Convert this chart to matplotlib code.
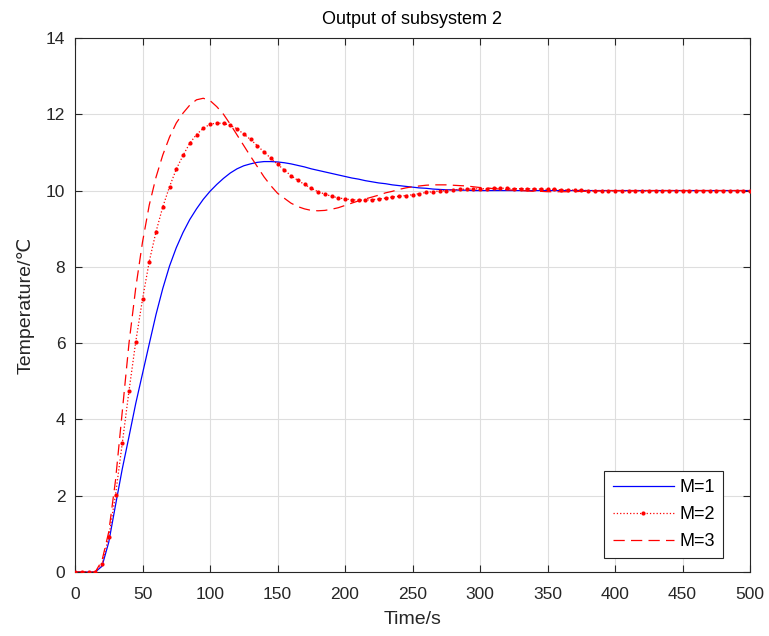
import matplotlib
matplotlib.use("Agg")
import matplotlib.pyplot as plt
import numpy as np

# ---------------- data ----------------
time_s = list(range(0, 501, 5))

m1_values = [
    0.0, 0.0, 0.0, 0.0, 0.15, 0.78, 1.75, 2.7, 3.55, 4.42,
    5.2, 5.98, 6.75, 7.43, 8.02, 8.5, 8.9, 9.24, 9.52, 9.77,
    9.98, 10.16, 10.32, 10.46, 10.57, 10.65, 10.7, 10.74, 10.76, 10.76,
    10.75, 10.73, 10.7, 10.66, 10.62, 10.57, 10.53, 10.49, 10.45, 10.41,
    10.37, 10.33, 10.3, 10.26, 10.23, 10.2, 10.18, 10.15, 10.13, 10.11,
    10.09, 10.07, 10.06, 10.04, 10.03, 10.02, 10.02, 10.01, 10.01, 10.0,
    10.0, 10.0, 10.0, 10.0, 10.0, 10.0, 10.0, 10.0, 10.0, 10.0,
    10.0, 10.0, 10.0, 10.0, 10.0, 10.0, 10.0, 10.0, 10.0, 10.0,
    10.0, 10.0, 10.0, 10.0, 10.0, 10.0, 10.0, 10.0, 10.0, 10.0,
    10.0, 10.0, 10.0, 10.0, 10.0, 10.0, 10.0, 10.0, 10.0, 10.0,
    10.0,
]

m2_values = [
    0.0, 0.0, 0.0, 0.0, 0.2, 0.92, 2.02, 3.37, 4.75, 6.04,
    7.15, 8.14, 8.92, 9.57, 10.1, 10.56, 10.92, 11.24, 11.47, 11.63,
    11.74, 11.77, 11.76, 11.71, 11.62, 11.48, 11.34, 11.18, 11.01, 10.85,
    10.69, 10.54, 10.39, 10.27, 10.16, 10.06, 9.97, 9.91, 9.85, 9.81,
    9.78, 9.76, 9.75, 9.75, 9.76, 9.78, 9.8, 9.83, 9.85, 9.87,
    9.89, 9.92, 9.95, 9.97, 9.99, 10.0, 10.02, 10.03, 10.04, 10.04,
    10.05, 10.05, 10.06, 10.06, 10.06, 10.05, 10.05, 10.05, 10.04, 10.04,
    10.03, 10.03, 10.02, 10.02, 10.01, 10.01, 10.0, 10.0, 10.0, 10.0,
    9.99, 9.99, 9.99, 9.99, 9.99, 9.99, 10.0, 10.0, 10.0, 10.0,
    10.0, 10.0, 10.0, 10.0, 10.0, 10.0, 10.0, 10.0, 10.0, 10.0,
    10.0,
]

m3_values = [
    0.0, 0.0, 0.0, 0.0, 0.3, 1.05, 2.4, 4.2, 6.0, 7.45,
    8.65, 9.62, 10.35, 10.93, 11.4, 11.77, 12.03, 12.24, 12.38, 12.42,
    12.36, 12.2, 12.0, 11.74, 11.46, 11.18, 10.9, 10.63, 10.36, 10.13,
    9.93, 9.8, 9.67, 9.58, 9.52, 9.48, 9.47, 9.48, 9.51, 9.55,
    9.61, 9.67, 9.73, 9.78, 9.83, 9.88, 9.94, 9.98, 10.03, 10.07,
    10.1, 10.12, 10.14, 10.15, 10.15, 10.15, 10.14, 10.13, 10.12, 10.1,
    10.08, 10.07, 10.05, 10.04, 10.02, 10.01, 10.0, 9.99, 9.98, 9.98,
    9.97, 9.97, 9.97, 9.97, 9.97, 9.98, 9.98, 9.99, 9.99, 10.0,
    10.0, 10.0, 10.0, 10.0, 10.0, 10.0, 10.0, 10.0, 10.0, 10.0,
    10.0, 10.0, 10.0, 10.0, 10.0, 10.0, 10.0, 10.0, 10.0, 10.0,
    10.0,
]

series_labels = ["M=1", "M=2", "M=3"]
x_ticks = list(range(0, 501, 50))
y_ticks = list(range(0, 15, 2))
title_text = "Output of subsystem 2"
x_label = "Time/s"
y_label = "Temperature/\u2103"

# ---------------- style ----------------
plt.rcParams["font.family"] = ["Liberation Sans", "DejaVu Sans", "Noto Sans CJK SC"]
axis_color = "#262626"

fig = plt.figure(figsize=(7.69, 6.36), dpi=100)
ax = fig.add_axes([75 / 769, 64 / 636, 675 / 769, 534 / 636])

ax.plot(time_s, m1_values, color="#0000ff", lw=0.9, label=series_labels[0], zorder=3)
ax.plot(time_s, m2_values, color="#ff0000", lw=0.9, ls=":", marker="o",
        markersize=3.0, markeredgewidth=0, label=series_labels[1], zorder=4)
ax.plot(time_s, m3_values, color="#ff0000", lw=0.9, ls=(0, (9, 5)),
        label=series_labels[2], zorder=3)

ax.set_xlim(0, 500)
ax.set_ylim(0, 14)
ax.set_xticks(x_ticks)
ax.set_yticks(y_ticks)

ax.grid(True, color="#dedede", lw=0.8)
ax.set_axisbelow(True)
for sp in ax.spines.values():
    sp.set_color(axis_color)
    sp.set_linewidth(0.8)
ax.tick_params(direction="in", length=5, width=0.8, color=axis_color,
               labelcolor=axis_color, labelsize=12.5, top=True, right=True)
ax.tick_params(axis="x", pad=11)
ax.tick_params(axis="y", pad=7)

ax.set_title(title_text, fontsize=13, color="black", pad=10)
ax.set_xlabel(x_label, fontsize=14, color=axis_color, labelpad=6)
ax.set_ylabel(y_label, fontsize=14, color=axis_color, labelpad=8)

leg = ax.legend(loc="lower right", bbox_to_anchor=(0.96, 0.026), borderaxespad=0,
                fontsize=13, frameon=True, fancybox=False, framealpha=1,
                edgecolor=axis_color, handlelength=3.4, borderpad=0.45,
                labelspacing=0.55, handletextpad=0.3)
leg.get_frame().set_linewidth(0.8)

fig.savefig("out.png", dpi=100)
